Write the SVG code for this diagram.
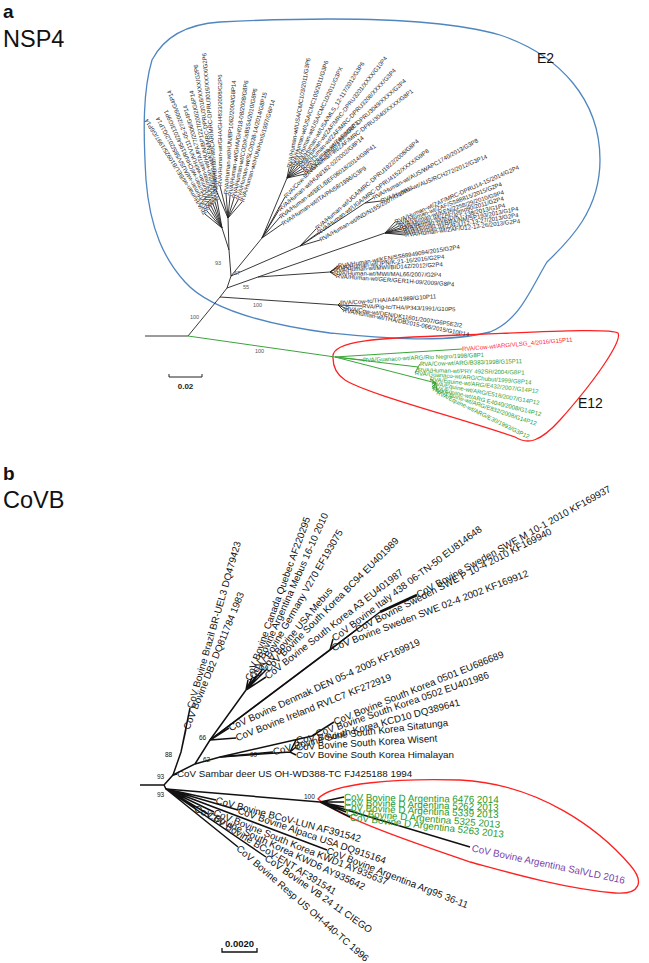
<svg xmlns="http://www.w3.org/2000/svg" width="649" height="963" viewBox="0 0 649 963">
<style>
text{font-family:"Liberation Sans",Arial,sans-serif}
.la{font-size:6px;fill:#262626}
.lag{font-size:6px;fill:#2e9e2e}
.lar{font-size:6px;fill:#ff2020}
.lb{font-size:9.8px;fill:#111}
.lbg{font-size:9.8px;fill:#2a9a2a}
.lbp{font-size:9.8px;fill:#7a3fa8}
.bsa{font-size:5.5px;fill:#555}
.bsb{font-size:6.5px;fill:#111}
.ea{stroke:#222;stroke-width:0.9;fill:none}
.eg{stroke:#3aa53a;stroke-width:1;fill:none}
.eb{stroke:#111;stroke-width:1.5;fill:none}
.title{font-size:23.5px;fill:#111}
.pl{font-size:19px;font-weight:bold;fill:#111}
</style>

<g id="titles">
<text class="pl" x="3" y="18">a</text>
<text class="title" x="3" y="47">NSP4</text>
<text class="pl" x="3" y="480">b</text>
<text class="title" x="3" y="508">CoVB</text>
</g>

<g id="clusters">
<path id="E2-outline" d="M220,22 C300,18 430,15 500,35 C560,55 600,100 600,160 C600,210 570,240 547,262 C530,290 520,320 490,332 C440,345 360,336 330,333 C270,325 210,310 185,282 C165,260 150,230 146,180 C143,130 143,90 152,60 C165,35 190,24 220,22 Z" fill="none" stroke="#4f86c0" stroke-width="1.3"/>
<path id="E12-outline" d="M333,358 C330,340 380,338 460,335 C540,332 610,328 618,333 C622,340 600,375 560,420 C540,442 528,445 515,437 C450,415 370,395 345,380 C333,372 333,362 333,358 Z" fill="none" stroke="#ff2020" stroke-width="1.3"/>
<text x="537" y="63" style="font-size:14px;fill:#111">E2</text>
<text x="578" y="408" style="font-size:14px;fill:#111">E12</text>
<path id="CoV-outline" d="M318,799 C330,783 400,778 460,780 C540,784 600,830 630,865 C645,882 640,895 615,893 C560,888 500,870 470,862 C420,845 340,818 318,799 Z" fill="none" stroke="#ff2020" stroke-width="1.3"/>
</g>

<g id="connectors">
<path class="ea" d="M145,336 H188 L220,297 L227,288 L231,276 L229,250 L222,228"/>
<path class="ea" d="M220,297 L338,305"/>
<path class="ea" d="M227,288 L258,277 L330,272"/>
<path class="ea" d="M258,277 L385,233"/>
<path class="ea" d="M231,276 L262,238 L287,178"/>
<path class="ea" d="M231,276 L300,246 L365,203"/>
<path class="ea" d="M229,250 L228,218"/>
<path class="ea" d="M222,228 L205,214 M222,228 L207,211 M222,228 L209,208 M222,228 L211,206 M222,228 L213,204 M222,228 L215,202 M222,228 L217,200"/>
<path class="ea" d="M228,218 L216,190 M228,218 L220,186 M228,218 L226,194 M228,218 L230,196 M228,218 L234,198 M228,218 L238,200 M228,218 L242,202"/>
<path class="ea" d="M287,178 L289,168 M287,178 L292,167 M287,178 L295,166 M287,178 L298,166 M287,178 L300,167 M287,178 L302,169 M287,178 L304,171 M287,178 L305,174"/>
<path class="ea" d="M262,238 L285,197 M262,238 L279,210 M262,238 L280,217 M262,238 L282,224"/>
<path class="ea" d="M300,246 L316,229 M300,246 L318,233 M300,246 L320,240 M365,203 L373,198 M365,203 L381,201"/>
<path class="ea" d="M385,233 L395,222 M385,233 L397,224 M385,233 L399,226 M385,233 L400,228 M385,233 L402,229 M385,233 L403,231 M385,233 L404,233 M385,233 L405,235"/>
<path class="ea" d="M330,272 L338,266 M330,272 L336,268 M330,272 L334,270 M330,272 L334,273 M330,272 L336,276"/>
<path class="ea" d="M338,305 L340,303 M338,305 L362,306 M338,305 L345,308 M338,305 L343,310"/>
<path class="eg" d="M188,336 L335,357"/>
<path class="eg" d="M335,357 L462,349 M335,357 L363,360 M335,357 L418,367 L420,364 M418,367 L418,370 M418,367 L415,373 M335,357 L436,383 L430,379 M436,383 L432,383 M436,383 L432,387 M436,383 L433,389 M436,383 L437,392"/>

<path class="eb" d="M140,785 H164 L173,775 L177,774"/>
<path class="eb" d="M173,775 L181,752 L186,729 M181,752 L190,708"/>
<path class="eb" d="M173,775 L195,764 L210,740 L246,690"/>
<path class="eb" d="M246,690 L248,680 M246,690 L252,678 M246,690 L256,676 M246,690 L262,670 M246,690 L266,670 M246,690 L266,677"/>
<path class="eb" d="M210,740 L229,728 M210,740 L236,738"/>
<path class="eb" d="M210,740 L330,650 L333,639 M330,650 L332,648 M330,650 L356,630"/>
<path class="eb" d="M210,740 L380,612"/>
<path d="M380,612 L417,595" stroke="#111" stroke-width="2.6" fill="none"/>
<path class="eb" d="M195,764 L220,757 L290,752 L296,755 M290,752 L296,747 M290,752 L296,740"/>
<path class="eb" d="M220,757 L312,736 L334,722 M312,736 L316,734 M220,757 L273,752"/>
<path class="eb" d="M164,785 L166,789 L320,802"/>
<path class="eb" d="M320,802 L344,797 M320,802 L344,802 M320,802 L344,807 M320,802 L346,812 M320,802 L350,817 M320,802 L470,847"/>
<path class="eb" d="M166,789 L216,800 M166,789 L238,810 M166,789 L327,850 M166,789 L214,812 M166,789 L195,808 M166,789 L208,814 M166,789 L266,857 M166,789 L238,847"/>
</g>

<g id="bootstrap-a">
<text class="bsa" x="215" y="265">93</text>
<text class="bsa" x="234" y="275">67</text>
<text class="bsa" x="243" y="289">55</text>
<text class="bsa" x="253" y="307">100</text>
<text class="bsa" x="190" y="319">100</text>
<text class="bsa" x="255" y="353">100</text>
</g>

<g id="scale-a">
<path d="M169,374 V377 H202 V374" stroke="#222" stroke-width="1" fill="none"/>
<text x="185.5" y="389" text-anchor="middle" style="font-size:8px;font-weight:bold;fill:#222">0.02</text>
</g>

<g id="a-left-fan">
<text class="la" transform="translate(205,214) rotate(-122)" dy=".35em">RVA/Human-wt/BEL/B10925/1997/G6P14</text>
<text class="la" transform="translate(207,211) rotate(-118)" dy=".35em">RVA/Human-wt/AUS/V585/2012/G1P14</text>
<text class="la" transform="translate(209,208) rotate(-114)" dy=".35em">RVA/Human-wt/CHN/R1954/2013/G9P1</text>
<text class="la" transform="translate(211,206) rotate(-110)" dy=".35em">RVA/Human-wt/HUN/V111-05-27/2009/G4P14</text>
<text class="la" transform="translate(213,204) rotate(-106)" dy=".35em">RVA/Human-wt/ITA/PA77/2006/G4P14</text>
<text class="la" transform="translate(215,202) rotate(-102)" dy=".35em">RVA/Human-wt/HUN/BP1227/2002/G6P14</text>
<text class="la" transform="translate(217,200) rotate(-99)" dy=".35em">RVA/Human-wt/KEN/MRC-DPRU3016/XXXX/G2P6</text>
</g>
<g id="a-central-fan">
<text class="la" transform="translate(216,190) rotate(-95)" dy=".35em">RVA/Human-wt/CAR/MRC-DPRU3016/XXXX/G2P6</text>
<text class="la" transform="translate(220,186) rotate(-90)" dy=".35em">RVA/Human-wt/GHA/GH4833/2008/G2P6</text>
<text class="la" transform="translate(226,194) rotate(-86)" dy=".35em">RVA/Human-wt/HUN/BP1062/2004/G8P14</text>
<text class="la" transform="translate(230,196) rotate(-82)" dy=".35em">RVA/Human-wt/GHA/GH018-08/2008/G8P6</text>
<text class="la" transform="translate(234,198) rotate(-79)" dy=".35em">RVA/Human-wt/COD/KisB554/2010/G8P6</text>
<text class="la" transform="translate(238,200) rotate(-76)" dy=".35em">RVA/Human-wt/SLO/D38-14/2014/G8P15</text>
<text class="la" transform="translate(242,202) rotate(-73)" dy=".35em">RVA/Human-wt/HUN/Hun5/1997/G6P14</text>
</g>
<g id="a-middle-fan">
<text class="la" transform="translate(289,168) rotate(-80)" dy=".35em">RVA/Human-wt/USA/CMC103/2011/G3P6</text>
<text class="la" transform="translate(292,167) rotate(-72)" dy=".35em">RVA/Human-wt/USA/CMC105/2011/G3P6</text>
<text class="la" transform="translate(295,166) rotate(-65)" dy=".35em">RVA/Human-wt/USA/CMC10/2011/G3PX</text>
<text class="la" transform="translate(298,166) rotate(-58)" dy=".35em">RVA/Human-wt/USA/MLS_12-117/2012/G3P6</text>
<text class="la" transform="translate(300,167) rotate(-52)" dy=".35em">RVA/Human-wt/ZAF/MRC-DPRU3201/XXXX/G10P4</text>
<text class="la" transform="translate(302,169) rotate(-47)" dy=".35em">RVA/Human-wt/ZAF/MRC-DPRU3208/XXXX/G3P4</text>
<text class="la" transform="translate(304,171) rotate(-42)" dy=".35em">RVA/Human-wt/ZAF/MRC-DPRU3049/XXXX/G2P4</text>
<text class="la" transform="translate(305,174) rotate(-38)" dy=".35em">RVA/Human-wt/ZAF/MRC-DPRU3040/XXXX/G8P1</text>
</g>
<g id="a-nga">
<text class="la" transform="translate(285,197) rotate(-46)" dy=".35em">RVA/Cow-tc/NGA/NGRBg8/1998/G8P1</text>
<text class="la" transform="translate(279,210) rotate(-41)" dy=".35em">RVA/Human-wt/HUN/182-02/2002/G8P14</text>
<text class="la" transform="translate(280,217) rotate(-37)" dy=".35em">RVA/Human-wt/BEL/BEF06018/2014/G9P41</text>
<text class="la" transform="translate(282,224) rotate(-34)" dy=".35em">RVA/Human-wt/ITA/PAI58/1996/G3P9</text>
</g>
<g id="a-uga">
<text class="la" transform="translate(316,229) rotate(-41)" dy=".35em">RVA/Human-wt/UGA/MRC-DPRU1922/2008/G8P4</text>
<text class="la" transform="translate(318,233) rotate(-37)" dy=".35em">RVA/Human-wt/UGA/MRC-DPRU4152/XXXX/G9P8</text>
<text class="la" transform="translate(320,240) rotate(-30)" dy=".35em">RVA/Human-wt/IND/N155/2007/G10P11</text>
</g>
<g id="a-aus">
<text class="la" transform="translate(373,198) rotate(-29)" dy=".35em">RVA/Human-wt/AUS/WAPC1740/2013/G3P8</text>
<text class="la" transform="translate(381,201) rotate(-23)" dy=".35em">RVA/Human-wt/AUS/RCH272/2012/G3P14</text>
</g>
<g id="a-g2p4-upper">
<text class="la" transform="translate(395,222) rotate(-24)" dy=".35em">RVA/Human-wt/ZAF/MRC-DPRU14-15/2014/G2P4</text>
<text class="la" transform="translate(397,224) rotate(-21)" dy=".35em">RVA/Human-wt/ZAF/SS88815/2015/G2P4</text>
<text class="la" transform="translate(399,226) rotate(-18)" dy=".35em">RVA/Human-wt/KEN/2258/29/2010/G9P4</text>
<text class="la" transform="translate(400,228) rotate(-16)" dy=".35em">RVA/Human-wt/ZAF/Dimo90/2011/G2P4</text>
<text class="la" transform="translate(402,229) rotate(-13)" dy=".35em">RVA/Human-wt/IND/KT-138/2013/G1P4</text>
<text class="la" transform="translate(403,231) rotate(-11)" dy=".35em">RVA/Human-wt/BRA/NM/SP193/2013/G1P4</text>
<text class="la" transform="translate(404,233) rotate(-9)" dy=".35em">RVA/Human-wt/ZAF/U12-13-27/2013/G2P4</text>
<text class="la" transform="translate(405,235) rotate(-7)" dy=".35em">RVA/Human-wt/ZAF/U12-13-26/2013/G2P4</text>
</g>
<g id="a-g2p4-lower">
<text class="la" transform="translate(338,266) rotate(-9)" dy=".35em">RVA/Human-wt/KEN/SS68949094/2015/G2P4</text>
<text class="la" transform="translate(336,268) rotate(-6)" dy=".35em">RVA/Human-wt/JPN/K-21-16/2016/G2P4</text>
<text class="la" transform="translate(334,270) rotate(-3)" dy=".35em">RVA/Human-wt/MWI/BID14Z/2012/G2P4</text>
<text class="la" transform="translate(334,273) rotate(1)" dy=".35em">RVA/Human-wt/MWI/MAL66/2007/G2P4</text>
<text class="la" transform="translate(336,276) rotate(4)" dy=".35em">RVA/Human-wt/GER/GER1H-09/2009/G8P4</text>
</g>
<g id="a-tha">
<text class="la" transform="translate(340,303) rotate(-4)" dy=".35em">RVA/Cow-tc/THA/A44/1989/G10P11</text>
<text class="la" transform="translate(362,306) rotate(2)" dy=".35em">RVA/Pig-tc/THA/P343/1991/G10P5</text>
<text class="la" transform="translate(345,308) rotate(8.5)" dy=".35em">RVA/Cow-wt/DEN/DK11601/2007/G6P5E2I2</text>
<text class="la" transform="translate(343,310) rotate(11)" dy=".35em">RVA/Human-wt/THA/DB2015-066/2015/G10P14</text>
</g>
<g id="a-e12">
<text class="lar" transform="translate(462,349) rotate(-5)" dy=".35em">RVA/Cow-wt/ARG/VLSG_4/2016/G15P11</text>
<text class="lag" transform="translate(363,360) rotate(-2.5)" dy=".35em">RVA/Guanaco-wt/ARG/Rio Negro/1998/G8P1</text>
<text class="lag" transform="translate(420,364) rotate(-1.7)" dy=".35em">RVA/Cow-wt/ARG/B383/1998/G15P11</text>
<text class="lag" transform="translate(418,370) rotate(1.3)" dy=".35em">RVA/Human-wt/PRY 492SR/2004/G8P1</text>
<text class="lag" transform="translate(415,373) rotate(4.6)" dy=".35em">RVA/Guanaco-wt/ARG/Chubut/1999/G8P14</text>
<text class="lag" transform="translate(430,379) rotate(6.4)" dy=".35em">RVA/Equine-wt/ARG/E432/2007/G14P12</text>
<text class="lag" transform="translate(432,383) rotate(10.5)" dy=".35em">RVA/Equine-wt/ARG/E518/2007/G14P12</text>
<text class="lag" transform="translate(432,387) rotate(14)" dy=".35em">RVA/Equine-wt/ARG E4040/2008/G14P12</text>
<text class="lag" transform="translate(433,389) rotate(18.5)" dy=".35em">RVA/Equine-wt/ARG/E832/2008/G14P12</text>
<text class="lag" transform="translate(437,392) rotate(26)" dy=".35em">RVA/Equine-wt/ARG/E30/1993/G3P12</text>
</g>

<g id="bootstrap-b">
<text class="bsb" x="165" y="757">88</text>
<text class="bsb" x="157" y="779">93</text>
<text class="bsb" x="157" y="797">93</text>
<text class="bsb" x="199" y="740">66</text>
<text class="bsb" x="203" y="762">62</text>
<text class="bsb" x="250" y="757">99</text>
<text class="bsb" x="304" y="799">100</text>
</g>
<g id="scale-b">
<path d="M222,948 V952 H257 V948" stroke="#111" stroke-width="1.3" fill="none"/>
<text x="239.5" y="947" text-anchor="middle" style="font-size:9.5px;font-weight:bold;fill:#111">0.0020</text>
</g>
<g id="b-brazil"><text class="lb" transform="translate(190,708) rotate(-74)" dy=".35em">CoV Bovine Brazil BR-UEL3 DQ479423</text></g>
<g id="b-db2"><text class="lb" transform="translate(186,729) rotate(-68)" dy=".35em">CoV Bovine DB2 DQ811784 1983</text></g>
<g id="b-canada"><text class="lb" transform="translate(248,680) rotate(-70)" dy=".35em">CoV Bovine Canada Quebec AF220295</text></g>
<g id="b-mebus-arg"><text class="lb" transform="translate(252,678) rotate(-66)" dy=".35em">CoV Bovine Argentina Mebus 16-10 2010</text></g>
<g id="b-germany"><text class="lb" transform="translate(256,676) rotate(-60)" dy=".35em">CoV Bovine Germany V270 EF193075</text></g>
<g id="b-usa-mebus"><text class="lb" transform="translate(262,670) rotate(-50)" dy=".35em">CoV Bovine USA Mebus</text></g>
<g id="b-bc94"><text class="lb" transform="translate(266,670) rotate(-45)" dy=".35em">CoV Bovine South Korea BC94 EU401989</text></g>
<g id="b-a3"><text class="lb" transform="translate(266,677) rotate(-38)" dy=".35em">CoV Bovine South Korea A3 EU401987</text></g>
<g id="b-italy"><text class="lb" transform="translate(333,639) rotate(-37)" dy=".35em">CoV Bovine Italy 438 06-TN-50 EU814648</text></g>
<g id="b-swe-m"><text class="lb" transform="translate(417,595) rotate(-29)" dy=".35em">CoV Bovine Sweden SWE M 10-1 2010 KF169937</text></g>
<g id="b-swe-p"><text class="lb" transform="translate(356,630) rotate(-27)" dy=".35em">CoV Bovine Sweden SWE P 10-4 2010 KF169940</text></g>
<g id="b-swe-02"><text class="lb" transform="translate(332,648) rotate(-21)" dy=".35em">CoV Bovine Sweden SWE 02-4 2002 KF169912</text></g>
<g id="b-denmak"><text class="lb" transform="translate(229,728) rotate(-24.5)" dy=".35em">CoV Bovine Denmak DEN 05-4 2005 KF169919</text></g>
<g id="b-ireland"><text class="lb" transform="translate(236,738) rotate(-21.7)" dy=".35em">CoV Bovine Ireland RVLC7 KF272919</text></g>
<g id="b-0501"><text class="lb" transform="translate(334,722) rotate(-22)" dy=".35em">CoV Bovine South Korea 0501 EU686689</text></g>
<g id="b-0502"><text class="lb" transform="translate(316,734) rotate(-19)" dy=".35em">CoV Bovine South Korea 0502 EU401986</text></g>
<g id="b-kcd10"><text class="lb" transform="translate(273,752) rotate(-15)" dy=".35em">CoV Bovine South Korea KCD10 DQ389641</text></g>
<g id="b-sitatunga"><text class="lb" transform="translate(296,740) rotate(-6.6)" dy=".35em">CoV Bovine South Korea Sitatunga</text></g>
<g id="b-wisent"><text class="lb" transform="translate(296,747) rotate(-3.6)" dy=".35em">CoV Bovine South Korea Wisent</text></g>
<g id="b-himalayan"><text class="lb" transform="translate(296,755)" dy=".35em">CoV Bovine South Korea Himalayan</text></g>
<g id="b-sambar"><text class="lb" transform="translate(177,774)" dy=".35em">CoV Sambar deer US OH-WD388-TC FJ425188 1994</text></g>
<g id="b-arg-6476"><text class="lbg" transform="translate(344,797) rotate(1)" dy=".35em">CoV Bovine D Argentina 6476 2014</text></g>
<g id="b-arg-5262"><text class="lbg" transform="translate(344,802) rotate(2)" dy=".35em">CoV Bovine D Argentina 5262 2013</text></g>
<g id="b-arg-5339"><text class="lbg" transform="translate(344,807) rotate(2.8)" dy=".35em">CoV Bovine D Argentina 5339 2013</text></g>
<g id="b-arg-5325"><text class="lbg" transform="translate(346,812) rotate(4.6)" dy=".35em">CoV Bovine D Argentina 5325 2013</text></g>
<g id="b-arg-5263"><text class="lbg" transform="translate(350,817) rotate(6.4)" dy=".35em">CoV Bovine D Argentina 5263 2013</text></g>
<g id="b-salvld"><text class="lbp" transform="translate(472,848) rotate(12)" dy=".35em">CoV Bovine Argentina SalVLD 2016</text></g>
<g id="b-lun"><text class="lb" transform="translate(216,800) rotate(15)" dy=".35em">CoV Bovine BCoV-LUN AF391542</text></g>
<g id="b-alpaca"><text class="lb" transform="translate(238,810) rotate(19)" dy=".35em">CoV Bovine Alpaca USA DQ915164</text></g>
<g id="b-arg95"><text class="lb" transform="translate(327,850) rotate(21.4)" dy=".35em">CoV Bovine Argentina Arg95 36-11</text></g>
<g id="b-kwd1"><text class="lb" transform="translate(214,812) rotate(22)" dy=".35em">CoV Bovine South Korea KWD1 AY935637</text></g>
<g id="b-kwd6"><text class="lb" transform="translate(195,808) rotate(25)" dy=".35em">CoV Bovine South Korea KWD6 AY935642</text></g>
<g id="b-ent"><text class="lb" transform="translate(208,814) rotate(31.5)" dy=".35em">CoV Bovine BCoV-ENT AF391541</text></g>
<g id="b-vb"><text class="lb" transform="translate(266,857) rotate(35)" dy=".35em">CoV Bovine VB 24 11 CIEGO</text></g>
<g id="b-resp"><text class="lb" transform="translate(238,847) rotate(41)" dy=".35em">CoV Bovine Resp US OH-440-TC 1996</text></g>
</svg>
